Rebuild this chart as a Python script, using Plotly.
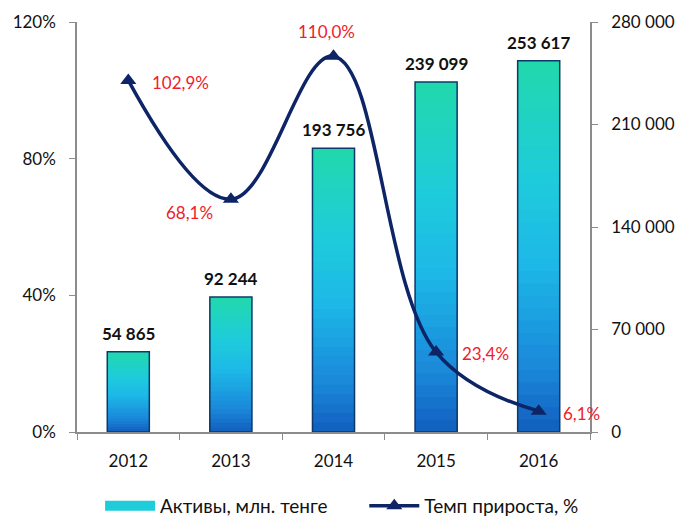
import plotly.graph_objects as go

years = ["2012", "2013", "2014", "2015", "2016"]
assets = [54865, 92244, 193756, 239099, 253617]
growth = [102.9, 68.1, 110.0, 23.4, 6.1]
# label offsets (px) relative to each line point: (xshift, yshift, xanchor)
growth_label_off = [(22, -2, "left"), (-16, -13, "right"), (-7, 25, "center"), (24, -1, "left"), (22, -2, "left")]

FONT = "Lato"
fig = go.Figure()


def lerp(c1, c2, t):
    a = [int(c1[i:i + 2], 16) for i in (1, 3, 5)]
    b = [int(c2[i:i + 2], 16) for i in (1, 3, 5)]
    return "#" + "".join(f"{round(x + (y - x) * t):02x}" for x, y in zip(a, b))


stops = [(0.0, "#21D8AE"), (0.3, "#1ECCDA"), (0.55, "#1DB8E8"), (0.85, "#1A86D8"), (1.0, "#1262C0")]


def grad(t):
    for (t0, c0), (t1, c1) in zip(stops, stops[1:]):
        if t <= t1:
            return lerp(c0, c1, (t - t0) / (t1 - t0))
    return stops[-1][1]


N = 30
for i in range(N):
    f = 1.0 - i / N
    fig.add_trace(go.Bar(
        x=years, y=[v * f for v in assets], marker=dict(color=grad(i / (N - 1)), line=dict(width=0)),
        width=0.41, showlegend=False, hoverinfo="skip", yaxis="y"))
# outline
fig.add_trace(go.Bar(
    x=years, y=assets, width=0.41, name="Активы, млн. тенге",
    marker=dict(color="rgba(0,0,0,0)", line=dict(color="#0B3A6A", width=1.5)),
    showlegend=False, yaxis="y"))
# legend proxy for bars (wide swatch)
fig.add_trace(go.Scatter(
    x=[None], y=[None], mode="lines", name="Активы, млн. тенге",
    line=dict(color="#1ECCDA", width=13), showlegend=True, yaxis="y", legend="legend"))

# growth line
fig.add_trace(go.Scatter(
    x=years, y=growth, mode="lines+markers", name="Темп прироста, %",
    line=dict(color="#0D2466", width=3.5, shape="spline", smoothing=1.1),
    marker=dict(symbol="triangle-up", size=14, color="#0D2466"),
    yaxis="y2", cliponaxis=False, legend="legend2"))

annotations = []
for i, v in enumerate(assets):
    annotations.append(dict(
        x=i, y=v, xref="x", yref="y", text=f"{v:,}".replace(",", " "), showarrow=False,
        yanchor="bottom", yshift=6, font=dict(family=FONT, size=17, color="#111111", weight="bold")))
for i, (g, (dx, dy, xa)) in enumerate(zip(growth, growth_label_off)):
    annotations.append(dict(
        x=i, y=g, xref="x", yref="y2", text=f"{g:.1f}%".replace(".", ","), showarrow=False,
        xanchor=xa, yanchor="middle", xshift=dx, yshift=dy,
        font=dict(family=FONT, size=17, color="#F0202A")))

axis_common = dict(showgrid=False, zeroline=False, showline=True, linecolor="#8C8C8C",
                   linewidth=1.5, ticks="outside", ticklen=6, tickcolor="#8C8C8C",
                   tickfont=dict(family=FONT, size=17, color="#111111"))

legend_common = dict(orientation="h", xanchor="left", y=-0.18, yanchor="middle",
                     font=dict(family=FONT, size=19, color="#111111"), itemwidth=50,
                     bgcolor="rgba(0,0,0,0)")

fig.update_layout(
    width=683, height=517,
    margin=dict(l=77, r=93, t=22, b=85, autoexpand=False),
    paper_bgcolor="white", plot_bgcolor="white",
    barmode="overlay",
    separators=", ",
    annotations=annotations,
    xaxis=dict(**axis_common, type="category", range=[-0.5, 4.5], tickson="boundaries",
               ticklabelstandoff=13),
    yaxis=dict(**axis_common, side="right", range=[0, 280000],
               tickvals=[0, 70000, 140000, 210000, 280000],
               ticktext=["0", "70 000", "140 000", "210 000", "280 000"],
               ticklabelstandoff=10),
    yaxis2=dict(**axis_common, side="left", overlaying="y", range=[0, 120],
                tickvals=[0, 40, 80, 120], ticktext=["0%", "40%", "80%", "120%"],
                ticklabelstandoff=10),
    legend=dict(**legend_common, x=0.045),
    legend2=dict(**legend_common, x=0.56),
    showlegend=True,
)

fig.write_html("out.html", config={"displayModeBar": False},
               post_script="document.body.style.margin='0px';")
